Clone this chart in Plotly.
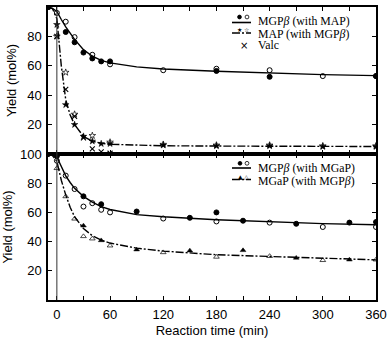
import plotly.graph_objects as go
from plotly.subplots import make_subplots

# ---------------- data: top panel (MGPβ with MAP) ----------------
top_mgp_filled_t = [-10, 10, 20, 30, 40, 50, 60, 180, 240, 360]
top_mgp_filled_y = [100, 83, 76, 69, 65, 63, 63, 56.5, 52.5, 53]
top_mgp_open_t = [-10, 0, 10, 20, 40, 60, 120, 180, 240, 300, 360]
top_mgp_open_y = [100, 96, 90, 79.5, 67.5, 61, 57, 58, 57, 53, 53]
top_map_filled_t = [-10, 0, 10, 20, 30, 40, 50, 60, 120, 180, 240, 300, 360]
top_map_filled_y = [100, 88, 33.5, 20, 12, 8.7, 7, 7, 6, 5.5, 5.5, 5, 5]
top_map_open_t = [0, 10, 20, 40, 60, 120, 180, 240, 300, 360]
top_map_open_y = [80, 55.5, 27, 12.5, 8, 6.5, 6, 6, 5.5, 5.5]
valc_t = [0, 10, 20, 30, 40, 50, 60]
valc_y = [80, 44, 25.6, 11, 3.5, 1.5, 0.5]

top_fit_t = [-10, -5, 0, 2, 5, 10, 15, 20, 30, 40, 50, 60, 90, 120, 180, 240, 300, 360]
top_mgp_fit = [100, 99, 97, 94.5, 91.5, 86.5, 82, 78, 71, 66.5, 63.7, 62, 59.3, 57.8, 56.3, 55, 54, 53.3]
top_map_fit = [100, 99, 92, 78, 60, 37, 26.5, 20, 12, 8.7, 7.3, 6.6, 5.9, 5.6, 5.4, 5.3, 5.2, 5.1]

# ---------------- data: bottom panel (MGPβ with MGaP) ----------------
bot_mgp_filled_t = [-10, 0, 30, 50, 90, 150, 180, 210, 270, 330, 360]
bot_mgp_filled_y = [100, 98.6, 71, 65.6, 60.6, 56.3, 60, 54.3, 52.2, 53, 53.4]
bot_mgp_open_t = [-10, 0, 10, 20, 30, 40, 50, 60, 120, 180, 240, 300, 360]
bot_mgp_open_y = [100, 95.4, 85.2, 76, 64, 66.3, 61.8, 60, 55.8, 53.8, 53, 50, 50]
bot_mgap_filled_t = [30, 50, 90, 150, 210, 270, 330]
bot_mgap_filled_y = [50.9, 40.8, 34.5, 33.8, 34, 28.8, 27.6]
bot_mgap_open_t = [-10, 0, 10, 20, 30, 40, 60, 120, 180, 240, 300, 360]
bot_mgap_open_y = [100, 90.2, 70.9, 55.6, 43.6, 42, 37.2, 32.6, 29.5, 30, 27.2, 27.6]

bot_fit_t = [-10, -5, 0, 5, 10, 15, 20, 30, 40, 50, 60, 90, 120, 180, 240, 300, 360]
bot_mgp_fit = [100, 99.5, 98, 91, 85, 80.5, 76.5, 71, 67, 64, 62, 58.5, 57, 55, 53.5, 52.3, 51.5]
bot_mgap_fit = [100, 99, 95, 82, 72, 63.5, 57, 49, 44, 41, 39, 35.5, 33.5, 31, 29.8, 28.5, 27.5]

x_tick_vals = [0, 60, 120, 180, 240, 300, 360]
y_tick_vals = [20, 40, 60, 80, 100]

# ---------------- figure ----------------
fig = make_subplots(rows=2, cols=1, shared_xaxes=True, vertical_spacing=0)

BLACK = "#000000"
DASHDOT = "8px,2px,2px,2px"

def fit(t, y, row, dash="solid"):
    fig.add_trace(go.Scatter(x=t, y=y, mode="lines", line=dict(color=BLACK, width=1.4, dash=dash),
                             showlegend=False, hoverinfo="skip"), row=row, col=1)

def pts(t, y, row, symbol, size=5, lw=1):
    fig.add_trace(go.Scatter(x=t, y=y, mode="markers",
                             marker=dict(symbol=symbol, size=size, color=BLACK,
                                         line=dict(color=BLACK, width=lw)),
                             showlegend=False), row=row, col=1)

fit(top_fit_t, top_mgp_fit, 1)
fit(top_fit_t, top_map_fit, 1, DASHDOT)
pts(top_mgp_filled_t, top_mgp_filled_y, 1, "circle", 5)
pts(top_mgp_open_t, top_mgp_open_y, 1, "circle-open", 5)
pts(top_map_filled_t, top_map_filled_y, 1, "star", 5, 0.5)
pts(top_map_open_t, top_map_open_y, 1, "star-open", 5, 0.7)
pts(valc_t, valc_y, 1, "x-thin-open", 5, 1.1)

fit(bot_fit_t, bot_mgp_fit, 2)
fit(bot_fit_t, bot_mgap_fit, 2, DASHDOT)
pts(bot_mgp_filled_t, bot_mgp_filled_y, 2, "circle", 5)
pts(bot_mgp_open_t, bot_mgp_open_y, 2, "circle-open", 5)
pts(bot_mgap_filled_t, bot_mgap_filled_y, 2, "triangle-up", 5, 0.5)
pts(bot_mgap_open_t, bot_mgap_open_y, 2, "triangle-up-open", 5, 0.7)

SANS = "Liberation Sans, Arial, sans-serif"
SERIF = "Liberation Serif, Times New Roman, serif"

xcommon = dict(range=[-10, 360], showline=True, linecolor=BLACK, linewidth=1.5, mirror="ticks",
               ticks="inside", ticklen=4, tickcolor=BLACK, tickwidth=1, tickvals=x_tick_vals,
               showgrid=False, zeroline=False, automargin=False,
               minor=dict(dtick=30, tick0=0, ticks="inside", ticklen=4, tickcolor=BLACK, tickwidth=1),
               tickfont=dict(family=SANS, size=13, color=BLACK))
ycommon = dict(range=[0, 100], showline=True, linecolor=BLACK, linewidth=1.5, mirror="ticks",
               ticks="inside", ticklen=4, tickcolor=BLACK, tickwidth=1, tickvals=y_tick_vals,
               showgrid=False, zeroline=False, ticklabelstandoff=2, automargin=False,
               tickfont=dict(family=SANS, size=13, color=BLACK),
               title=dict(text="Yield (mol%)", font=dict(family=SANS, size=13, color=BLACK), standoff=8))

fig.update_xaxes(**xcommon)
fig.update_xaxes(showticklabels=False, row=1, col=1)
fig.update_xaxes(title=dict(text="Reaction time (min)", font=dict(family=SANS, size=13, color=BLACK), standoff=5),
                 ticklabelstandoff=2, row=2, col=1)
fig.update_yaxes(**ycommon)
fig.update_layout(yaxis=dict(domain=[0.4983, 1]), yaxis2=dict(domain=[0, 0.4983]))

# vertical line at t = 0 in both panels
for yr in ["y domain", "y2 domain"]:
    fig.add_shape(type="line", xref="x", yref=yr, x0=0, x1=0, y0=0, y1=1,
                  line=dict(color="#333333", width=1))

# ---------------- manual legends ----------------
L, R, T, B = 48, 376, 7, 300
W, H = R - L, B - T
def px(x): return (x - L) / W
def py(y): return (B - y) / H

def leg_text(x, y, text):
    fig.add_annotation(x=px(x), y=py(y), xref="paper", yref="paper", text=text, showarrow=False,
                       xanchor="left", yanchor="middle", borderpad=0,
                       font=dict(family=SERIF, size=11.8, color=BLACK))

def leg_sym(x, y, ch, size=6):
    fig.add_annotation(x=px(x), y=py(y), xref="paper", yref="paper", text=ch, showarrow=False,
                       xanchor="center", yanchor="middle", borderpad=0,
                       font=dict(family="DejaVu Sans", size=size, color=BLACK))

def leg_circle(x, y, filled):
    r = 1.9
    fig.add_shape(type="circle", xref="paper", yref="paper",
                  x0=px(x - r), x1=px(x + r), y0=py(y + r), y1=py(y - r),
                  line=dict(color=BLACK, width=0.8), fillcolor=BLACK if filled else "white")

def leg_line(y, dash="solid"):
    fig.add_shape(type="line", xref="paper", yref="paper", x0=px(232), x1=px(251), y0=py(y), y1=py(y),
                  line=dict(color=BLACK, width=1.6, dash=dash))

# top legend
leg_line(22.5)
leg_circle(239.5, 17, True); leg_circle(247, 17, False)
leg_text(257, 21.5, "MGP<i>β</i> (with MAP)")
leg_line(33, DASHDOT)
leg_sym(239.5, 29, "★", 6); leg_sym(246.5, 29, "☆", 6)
leg_text(257, 33.5, "MAP (with MGP<i>β</i>)")
leg_sym(243.5, 45.5, "×", 10)
leg_text(257, 45.5, "Valc")

# bottom legend
leg_line(168)
leg_circle(240, 163.3, True); leg_circle(247, 163.3, False)
leg_text(257, 168, "MGP<i>β</i> (with MGaP)")
leg_line(179.5, DASHDOT)
leg_sym(240, 176.5, "▲", 6); leg_sym(246.5, 176.5, "△", 6)
leg_text(257, 180.5, "MGaP (with MGP<i>β</i>)")

fig.update_layout(width=388, height=338, margin=dict(l=L, r=388 - R, t=T, b=338 - B, autoexpand=False),
                  plot_bgcolor="white", paper_bgcolor="white", showlegend=False)

fig.write_html("out.html", config={"displayModeBar": False},
               post_script="document.body.style.margin='0px';document.body.style.padding='0px';")
